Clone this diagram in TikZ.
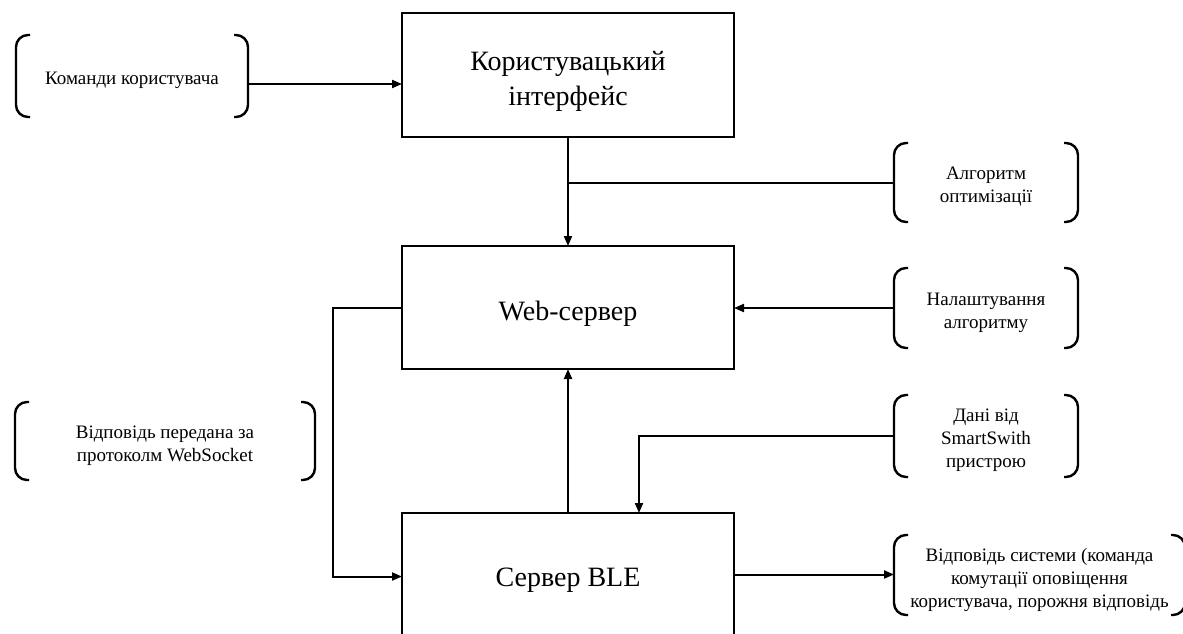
\documentclass[tikz,border=0pt]{standalone}
\usepackage{fontspec}
\setmainfont{Liberation Serif}
\usetikzlibrary{arrows.meta}
\tikzset{
  box/.style={draw, line width=2.4pt, minimum width=332pt, inner sep=0pt, outer sep=0pt},
  boxtxt/.style={align=center, inner sep=0pt, yshift=-6pt, font=\fontsize{28}{35}\selectfont},
  note/.style={inner sep=0pt, outer sep=0pt},
  notetxt/.style={align=center, inner sep=0pt, yshift=-4.5pt, font=\fontsize{19}{23}\selectfont},
  brkline/.style={line width=2.4pt, rounded corners=12pt},
  arr/.style={line width=2pt, -{Triangle[length=10pt,width=8pt]}},
  ln/.style={line width=2pt}
}
\newcommand\drawbrk[1]{%
  \draw[brkline] ([xshift=14pt]#1.north west) -- (#1.north west) -- (#1.south west) -- ([xshift=14pt]#1.south west);
  \draw[brkline] ([xshift=-14pt]#1.north east) -- (#1.north east) -- (#1.south east) -- ([xshift=-14pt]#1.south east);}
\begin{document}
\begin{tikzpicture}[x=1pt,y=-1pt]
\useasboundingbox (0,0) rectangle (1183,633);
% main boxes
\node[box, minimum height=124pt, label={[boxtxt]center:{Користувацький\\інтерфейс}}] (ui) at (568,75) {};
\node[box, minimum height=123pt, label={[boxtxt]center:{Web-сервер}}] (web) at (568,307.5) {};
\node[box, minimum height=123pt, label={[boxtxt]center:{Сервер BLE}}] (ble) at (568,574.5) {};
% notes
\node[note, minimum width=232pt, minimum height=82pt, label={[notetxt]center:{Команди користувача}}] (cmd) at (132,76) {};
\node[note, minimum width=184pt, minimum height=79pt, label={[notetxt]center:{Алгоритм\\оптимізації}}] (alg) at (986,182.5) {};
\node[note, minimum width=184pt, minimum height=80pt, label={[notetxt]center:{Налаштування\\алгоритму}}] (set) at (986,308) {};
\node[note, minimum width=184pt, minimum height=82pt, label={[notetxt]center:{Дані від\\SmartSwith\\пристрою}}] (data) at (986,436) {};
\node[note, minimum width=291pt, minimum height=80pt, label={[notetxt]center:{Відповідь системи (команда\\комутації оповіщення\\користувача, порожня відповідь}}] (resp) at (1039.5,575) {};
\node[note, minimum width=300pt, minimum height=78pt, label={[notetxt]center:{Відповідь передана за\\протоколм WebSocket}}] (ws) at (165,441) {};
\drawbrk{cmd}
\drawbrk{alg}
\drawbrk{set}
\drawbrk{data}
\drawbrk{resp}
\drawbrk{ws}
% connectors
\coordinate (wl) at (333,0);
\coordinate (dc) at (639,436);
\draw[arr] ([yshift=-8pt]cmd.east) -- ([yshift=-8pt]cmd.east -| ui.west);
\draw[arr] (ui.south) -- (web.north);
\draw[ln] (alg.west) -- (alg.west -| ui.south);
\draw[arr] (set.west) -- (set.west -| web.east);
\draw[arr] (ble.north) -- (web.south);
\draw[arr] (web.west) -- (web.west -| wl) -- ([yshift=-2pt]ble.west -| wl) -- ([yshift=-2pt]ble.west);
\draw[arr] (data.west) -- (dc) -- (dc |- ble.north);
\draw[arr] (ble.east) -- (ble.east -| resp.west);
\end{tikzpicture}
\end{document}
